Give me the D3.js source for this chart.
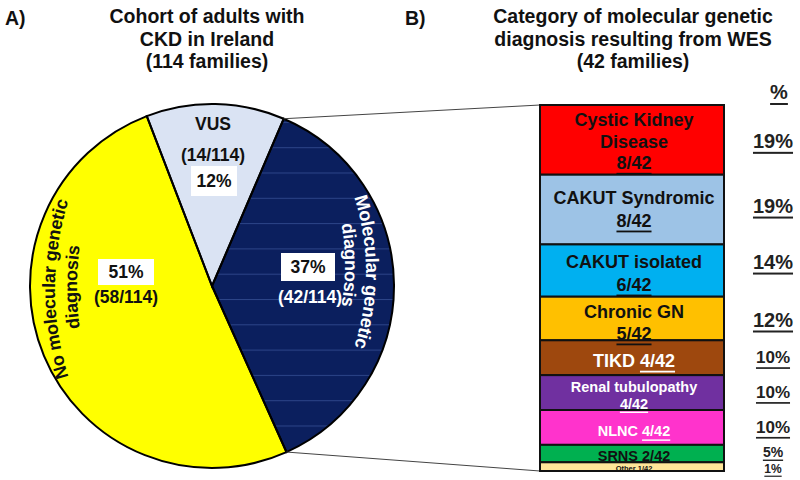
<!DOCTYPE html>
<html><head><meta charset="utf-8">
<script src="https://cdn.jsdelivr.net/npm/d3@7/dist/d3.min.js"></script>
<style>
body{margin:0;background:#fff}
svg{display:block}
text{font-family:"Liberation Sans",Arial,Helvetica,sans-serif;font-weight:bold}
</style>
</head><body>
<svg id="chart" width="800" height="480"></svg>
<script>
// ---------- data ----------
const pieCategories = ["VUS", "Molecular genetic diagnosis", "No molecular genetic diagnosis"];
const pieCounts = [14, 42, 58];
const pieTotal = 114;
const piePercentLabels = ["12%", "37%", "51%"];

const barCategories = ["Cystic Kidney Disease", "CAKUT Syndromic", "CAKUT isolated", "Chronic GN", "TIKD", "Renal tubulopathy", "NLNC", "SRNS", "Other"];
const barCounts = [8, 8, 6, 5, 4, 4, 4, 2, 1];
const barTotal = 42;
const barPercentLabels = ["19%", "19%", "14%", "12%", "10%", "10%", "10%", "5%", "1%"];

const titleA = ["Cohort of adults with", "CKD in Ireland", "(114 families)"];
const titleB = ["Category of molecular genetic", "diagnosis resulting from WES", "(42 families)"];

// ---------- layout / style ----------
const svg = d3.select("#chart");
const deg = Math.PI / 180;
const cx = 212, cy = 286, R = 182;
const pieColors = ["#dae3f3", "#0b1f5e", "#ffff00"];
const barColors = ["#ff0000", "#9dc3e6", "#00b0f0", "#ffc000", "#9e480e", "#7030a0", "#ff33cc", "#00b050", "#ffe699"];

// titles
svg.append("text").attr("x", 5).attr("y", 18).attr("dominant-baseline", "central")
  .attr("font-size", 19.5).attr("fill", "#111").text("A)");
svg.append("text").attr("x", 405).attr("y", 18).attr("dominant-baseline", "central")
  .attr("font-size", 19.5).attr("fill", "#111").text("B)");
const titleYs = [16, 39, 61];
titleA.forEach((t, i) => svg.append("text").attr("x", 207).attr("y", titleYs[i])
  .attr("text-anchor", "middle").attr("dominant-baseline", "central")
  .attr("font-size", 19.5).attr("fill", "#111").text(t));
titleB.forEach((t, i) => svg.append("text").attr("x", 633).attr("y", titleYs[i])
  .attr("text-anchor", "middle").attr("dominant-baseline", "central")
  .attr("font-size", 19.5).attr("fill", "#111").text(t));

// defs: faint horizontal lines on the dark slice
const defs = svg.append("defs");
const pat = defs.append("pattern").attr("id", "hlines").attr("patternUnits", "userSpaceOnUse")
  .attr("x", 0).attr("y", 13).attr("width", 20).attr("height", 25.3);
pat.append("rect").attr("x", 0).attr("y", 0).attr("width", 20).attr("height", 1).attr("fill", "#2c4488");

// ---------- pie ----------
const pie = d3.pie().sort(null).startAngle(-21 * deg).endAngle(339 * deg);
const arcs = pie(pieCounts);
const arc = d3.arc().innerRadius(0).outerRadius(R);
const gp = svg.append("g").attr("transform", `translate(${cx},${cy})`);
gp.selectAll("path.slice").data(arcs).join("path").attr("class", "slice")
  .attr("d", arc).attr("fill", (d, i) => pieColors[i]);
gp.append("path").datum(arcs[1]).attr("d", arc).attr("fill", "url(#hlines)");
gp.selectAll("path.edge").data(arcs).join("path").attr("class", "edge")
  .attr("d", arc).attr("fill", "none").attr("stroke", "#000").attr("stroke-width", 2);

function boxLabel(x, y, w, h, txt) {
  svg.append("rect").attr("x", x - w / 2).attr("y", y - h / 2).attr("width", w).attr("height", h).attr("fill", "#fff");
  svg.append("text").attr("x", x).attr("y", y).attr("text-anchor", "middle").attr("dominant-baseline", "central")
    .attr("font-size", 17.5).attr("fill", "#111").text(txt);
}
function plainLabel(x, y, txt, color) {
  svg.append("text").attr("x", x).attr("y", y).attr("text-anchor", "middle").attr("dominant-baseline", "central")
    .attr("font-size", 17.5).attr("fill", color).text(txt);
}
// VUS
plainLabel(213, 124, pieCategories[0], "#111");
plainLabel(213, 155, `(${pieCounts[0]}/${pieTotal})`, "#111");
boxLabel(214, 181, 46, 30, piePercentLabels[0]);
// molecular
boxLabel(308, 267, 54, 28, piePercentLabels[1]);
plainLabel(310, 297, `(${pieCounts[1]}/${pieTotal})`, "#fff");
// no molecular
boxLabel(126, 272, 56, 26, piePercentLabels[2]);
plainLabel(126, 297, `(${pieCounts[2]}/${pieTotal})`, "#111");

// curved labels
function arcPathD(ocx, ocy, r, aMid, span) {
  const a0 = (aMid - span) * deg, a1 = (aMid + span) * deg;
  const p0 = [ocx + r * Math.sin(a0), ocy - r * Math.cos(a0)];
  const p1 = [ocx + r * Math.sin(a1), ocy - r * Math.cos(a1)];
  return `M${p0[0]},${p0[1]} A${r},${r} 0 0 1 ${p1[0]},${p1[1]}`;
}
let pid = 0;
function curvedText(d, txt, color, size) {
  const id = "tp" + (pid++);
  defs.append("path").attr("id", id).attr("d", d);
  svg.append("text").attr("font-size", size).attr("fill", color).attr("dominant-baseline", "central")
    .append("textPath").attr("href", "#" + id).attr("startOffset", "50%").attr("text-anchor", "middle").text(txt);
}
// left: No molecular genetic / diagnosis
curvedText(arcPathD(49 + 300, 289, 300, 270, 40), "No molecular genetic", "#111", 18);
curvedText(arcPathD(71 + 300, 287, 300, 270, 40), "diagnosis", "#111", 18);
// right: Molecular genetic / diagnosis
curvedText(arcPathD(373 - 250, 272, 250, 90, 45), "Molecular genetic", "#fff", 18.5);
curvedText(arcPathD(351 - 250, 265, 250, 90, 45), "diagnosis", "#fff", 18);

// ---------- stacked bar ----------
const barX0 = 540, barX1 = 724;
const y = d3.scaleLinear().domain([0, barTotal]).range([105, 471]);
const cum = Array.from(d3.cumsum(barCounts));
const segs = barCounts.map((c, i) => ({ i, c, y0: y(cum[i] - c), y1: y(cum[i]) }));

// connector lines from pie slice edges to bar corners
const aTop = arcs[1].startAngle, aBot = arcs[1].endAngle;
svg.append("line").attr("x1", cx + R * Math.sin(aTop)).attr("y1", cy - R * Math.cos(aTop))
  .attr("x2", barX0).attr("y2", y(0)).attr("stroke", "#444").attr("stroke-width", 1);
svg.append("line").attr("x1", cx + R * Math.sin(aBot)).attr("y1", cy - R * Math.cos(aBot))
  .attr("x2", barX0).attr("y2", y(barTotal)).attr("stroke", "#444").attr("stroke-width", 1);

svg.selectAll("rect.seg").data(segs).join("rect").attr("class", "seg")
  .attr("x", barX0).attr("y", d => d.y0).attr("width", barX1 - barX0).attr("height", d => d.y1 - d.y0)
  .attr("fill", d => barColors[d.i]).attr("stroke", "#111").attr("stroke-width", 2);

// label layout per segment: lines of [text, underline] parts, offsets, size, colour
const frac = i => `${barCounts[i]}/${barTotal}`;
const segLabelLayout = [
  { lines: [[["Cystic Kidney", 0]], [["Disease", 0]], [[frac(0), 1]]], dy: [-20, 2, 23], size: 18, color: "#111" },
  { lines: [[[barCategories[1], 0]], [[frac(1), 1]]], dy: [-12, 11], size: 18, color: "#111" },
  { lines: [[[barCategories[2], 0]], [[frac(2), 1]]], dy: [-9, 14], size: 18, color: "#111" },
  { lines: [[[barCategories[3], 0]], [[frac(3), 1]]], dy: [-7, 15], size: 18, color: "#111" },
  { lines: [[[barCategories[4] + " ", 0], [frac(4), 1]]], dy: [3], size: 18, color: "#fff" },
  { lines: [[[barCategories[5], 0]], [[frac(5), 1]]], dy: [-6, 11], size: 14.5, color: "#fff" },
  { lines: [[[barCategories[6] + " ", 0], [frac(6), 1]]], dy: [4], size: 14.5, color: "#fff" },
  { lines: [[[barCategories[7] + " " + frac(7), 0]]], dy: [2], size: 14.5, color: "#111" },
  { lines: [[[barCategories[8] + " " + frac(8), 0]]], dy: [1], size: 7.5, color: "#111" }
];
const barCx = 634;
segs.forEach(s => {
  const L = segLabelLayout[s.i];
  const mid = (s.y0 + s.y1) / 2;
  L.lines.forEach((parts, k) => {
    const t = svg.append("text").attr("x", barCx).attr("y", mid + L.dy[k])
      .attr("text-anchor", "middle").attr("dominant-baseline", "central")
      .attr("font-size", L.size).attr("fill", L.color).attr("xml:space", "preserve");
    parts.forEach(p => {
      const ts = t.append("tspan").text(p[0]);
      if (p[1]) ts.attr("text-decoration", "underline");
    });
  });
});

// percentages column
const pctSizes = [20, 20, 20, 20, 17, 17, 17, 14, 12];
const pctDy = [1, -4, -9, 1, 0, 0, 0, -2, 2];
svg.append("text").attr("x", 779).attr("y", 92).attr("text-anchor", "middle").attr("dominant-baseline", "central")
  .attr("font-size", 20).attr("fill", "#222").attr("text-decoration", "underline").text("%");
segs.forEach(s => {
  svg.append("text").attr("x", 773).attr("y", (s.y0 + s.y1) / 2 + pctDy[s.i])
    .attr("text-anchor", "middle").attr("dominant-baseline", "central")
    .attr("font-size", pctSizes[s.i]).attr("fill", "#222").attr("text-decoration", "underline")
    .text(barPercentLabels[s.i]);
});
</script>
</body></html>
